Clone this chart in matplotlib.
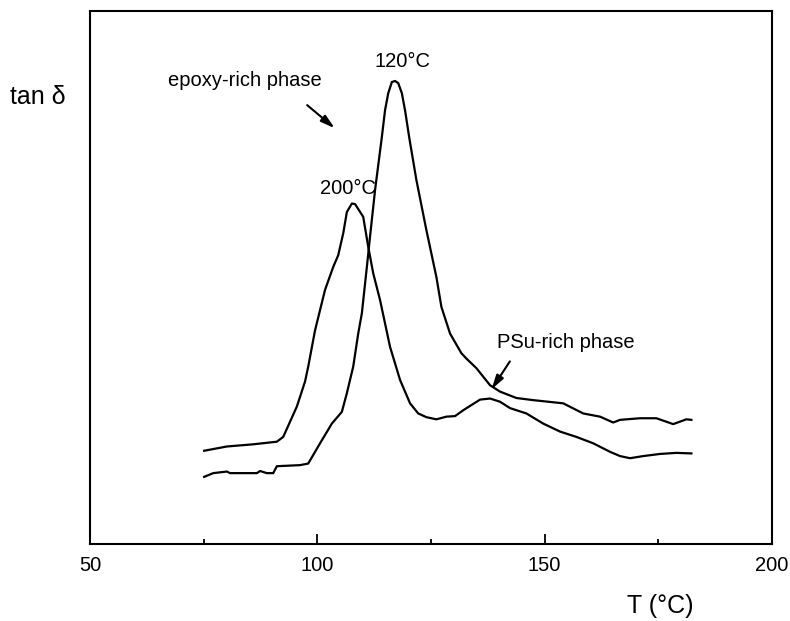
import matplotlib.pyplot as plt
import numpy as np

plt.rcParams['font.family'] = ['Liberation Sans', 'DejaVu Sans']

# tan delta curves (arbitrary units)
t_200 = [75.1, 80.1, 85.8, 91.1, 92.5, 95.5, 97.3, 98.0, 99.5, 101.7, 103.5, 104.6,
         105.7, 106.5, 107.6, 108.3, 110.1, 111.2, 112.3, 113.8, 116.0, 118.2, 120.4,
         122.2, 124.0, 126.2, 128.4, 130.3, 132.1, 135.8, 138.0, 140.2, 142.4, 146.0,
         149.7, 153.4, 157.0, 160.7, 164.4, 166.6, 168.8, 171.7, 175.4, 179.0, 182.3]
tan_200 = [0.175, 0.183, 0.187, 0.192, 0.201, 0.258, 0.305, 0.333, 0.401, 0.477, 0.520, 0.542,
           0.583, 0.623, 0.639, 0.638, 0.614, 0.558, 0.508, 0.458, 0.370, 0.308, 0.264,
           0.245, 0.238, 0.234, 0.239, 0.240, 0.251, 0.271, 0.273, 0.267, 0.255, 0.245,
           0.226, 0.211, 0.201, 0.189, 0.173, 0.165, 0.161, 0.165, 0.169, 0.171, 0.170]

t_120 = [75.1, 77.1, 80.1, 80.8, 82.3, 86.7, 87.4, 88.9, 90.3, 91.1, 96.2, 98.0, 100.6,
         103.2, 105.4, 106.5, 107.9, 109.0, 109.8, 110.9, 111.6, 112.7, 114.2, 114.9,
         115.6, 116.4, 117.1, 117.8, 118.6, 119.3, 120.2, 121.8, 124.0, 126.2, 127.3,
         129.2, 131.7, 132.8, 135.0, 138.0, 140.2, 143.8, 147.5, 154.1, 158.5, 162.2,
         165.1, 166.6, 171.0, 174.6, 178.3, 181.2, 182.3]
tan_120 = [0.126, 0.133, 0.136, 0.133, 0.133, 0.133, 0.137, 0.133, 0.133, 0.146, 0.148, 0.151, 0.189,
           0.226, 0.248, 0.283, 0.333, 0.395, 0.433, 0.520, 0.577, 0.664, 0.764, 0.814,
           0.846, 0.867, 0.869, 0.865, 0.846, 0.814, 0.764, 0.683, 0.589, 0.501, 0.445,
           0.395, 0.358, 0.348, 0.330, 0.298, 0.286, 0.274, 0.270, 0.264, 0.245, 0.239,
           0.228, 0.233, 0.236, 0.236, 0.225, 0.234, 0.233]

major_ticks = [50, 100, 150, 200]
minor_ticks = [75, 125, 175]

fig = plt.figure(figsize=(7.9, 6.21), dpi=100)
ax = fig.add_axes([0.114, 0.124, 0.863, 0.858])

ax.plot(t_200, tan_200, color='black', linewidth=1.6)
ax.plot(t_120, tan_120, color='black', linewidth=1.6)

ax.set_xlim(50, 200)
ax.set_ylim(0, 1.0)
ax.set_xticks(major_ticks)
ax.set_xticks(minor_ticks, minor=True)
ax.set_yticks([])
ax.tick_params(axis='x', which='major', direction='in', length=7.5, width=1.3,
               pad=9, labelsize=14.5)
ax.tick_params(axis='x', which='minor', direction='in', length=3.8, width=1.3)
for s in ax.spines.values():
    s.set_linewidth(1.5)

# annotations
arrow = dict(arrowstyle='-|>,head_width=0.2,head_length=0.7', color='black', lw=1.5,
             mutation_scale=12)
ax.text(67.2, 0.869, 'epoxy-rich phase', fontsize=14.5, ha='left', va='center')
ax.annotate('', xy=(104.3, 0.777), xytext=(97.3, 0.827), arrowprops=arrow)
ax.text(106.8, 0.668, '200°C', fontsize=14.5, ha='center', va='center')
ax.text(118.8, 0.906, '120°C', fontsize=14.5, ha='center', va='center')
ax.text(139.5, 0.379, 'PSu-rich phase', fontsize=14.5, ha='left', va='center')
ax.annotate('', xy=(138.0, 0.286), xytext=(142.7, 0.347), arrowprops=arrow)

fig.text(0.0127, 0.844, 'tan δ', fontsize=18, ha='left', va='center')
fig.text(0.794, 0.024, 'T (°C)', fontsize=18, ha='left', va='center')

fig.savefig('out.png', dpi=100)
